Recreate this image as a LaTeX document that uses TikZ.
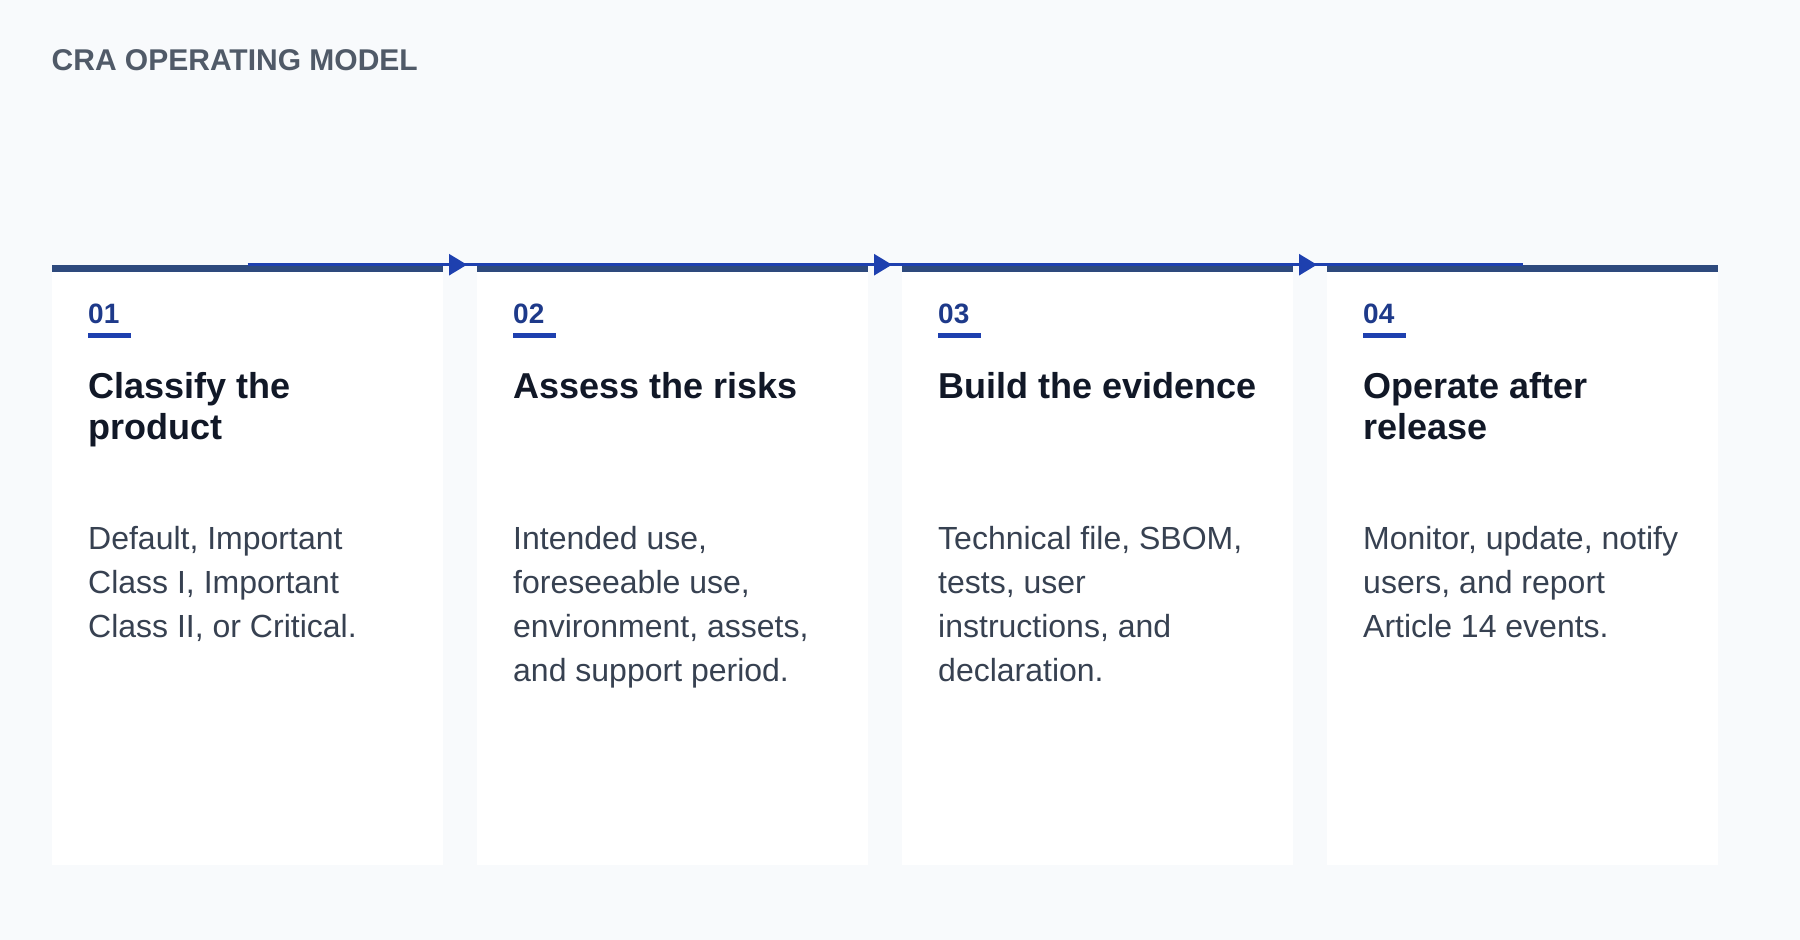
\documentclass[tikz,border=0pt]{standalone}
\usepackage{fontspec}
\setmainfont{Liberation Sans}
\usetikzlibrary{arrows.meta}

\definecolor{pagebg}{HTML}{F8FAFC}
\definecolor{titleink}{HTML}{505A68}
\definecolor{barblue}{HTML}{2E4A7D}
\definecolor{lineblue}{HTML}{1E40AF}
\definecolor{numblue}{HTML}{1E3A8A}
\definecolor{headink}{HTML}{111827}
\definecolor{bodyink}{HTML}{374151}

\tikzset{
  card/.style={fill=white,inner sep=0pt,minimum width=391pt,minimum height=600pt,anchor=north west},
  topbar/.style={fill=barblue},
  flow/.style={draw=lineblue,line width=2.7pt},
  flowtip/.style={flow,-{Triangle[length=18pt,width=21pt]}},
  numrule/.style={fill=lineblue},
  bigtitle/.style={anchor=base west,inner sep=0pt,text=titleink,font=\bfseries\fontsize{30}{36}\selectfont},
  stepno/.style={anchor=base west,inner sep=0pt,text=numblue,font=\bfseries\fontsize{28}{32}\selectfont},
  stephead/.style={anchor=base west,inner sep=0pt,align=left,text=headink,font=\bfseries\fontsize{36}{41.7}\selectfont},
  stepbody/.style={anchor=base west,inner sep=0pt,align=left,text=bodyink,font=\fontsize{32}{44}\selectfont}
}

\begin{document}
\begin{tikzpicture}[x=1pt,y=-1pt]
  \useasboundingbox (0,0) rectangle (1800,940);
  \fill[pagebg] (0,0) rectangle (1800,940);

  \node[bigtitle] (title) at (51.5,70) {CRA OPERATING MODEL};

  % the four cards
  \node[card] (c1) at (52,265) {};
  \node[card] (c2) at (477,265) {};
  \node[card] (c3) at (902,265) {};
  \node[card] (c4) at (1327,265) {};

  \fill[topbar] (c1.north west) rectangle ([yshift=-7pt]c1.north east);
  \fill[topbar] (c2.north west) rectangle ([yshift=-7pt]c2.north east);
  \fill[topbar] (c3.north west) rectangle ([yshift=-7pt]c3.north east);
  \fill[topbar] (c4.north west) rectangle ([yshift=-7pt]c4.north east);

  % flow line with arrows in the gaps
  \draw[flow] ([yshift=.3pt]c1.north) -- ([yshift=.3pt]c2.north);
  \draw[flow] ([yshift=.3pt]c2.north) -- ([yshift=.3pt]c3.north);
  \draw[flow] ([yshift=.3pt]c3.north) -- ([yshift=.3pt]c4.north);
  \draw[flowtip] ([yshift=.3pt]c1.north east) -- ([xshift=-10pt,yshift=.3pt]c2.north west);
  \draw[flowtip] ([yshift=.3pt]c2.north east) -- ([xshift=-10pt,yshift=.3pt]c3.north west);
  \draw[flowtip] ([yshift=.3pt]c3.north east) -- ([xshift=-10pt,yshift=.3pt]c4.north west);

  % card 1 (multi-line nodes sit on their last baseline)
  \node[stepno] (n1) at ([shift={(36,58.5)}]c1.north west) {01};
  \fill[numrule] ([shift={(36,68)}]c1.north west) rectangle ++(43,4.5);
  \node[stephead] (h1) at ([shift={(36,174.7)}]c1.north west) {Classify the\\product};
  \node[stepbody] (b1) at ([shift={(36,372.3)}]c1.north west)
    {Default, Important\\Class I, Important\\Class II, or Critical.};

  % card 2
  \node[stepno] (n2) at ([shift={(36,58.5)}]c2.north west) {02};
  \fill[numrule] ([shift={(36,68)}]c2.north west) rectangle ++(43,4.5);
  \node[stephead] (h2) at ([shift={(36,133)}]c2.north west) {Assess the risks};
  \node[stepbody] (b2) at ([shift={(36,416.3)}]c2.north west)
    {Intended use,\\foreseeable use,\\environment, assets,\\and support period.};

  % card 3
  \node[stepno] (n3) at ([shift={(36,58.5)}]c3.north west) {03};
  \fill[numrule] ([shift={(36,68)}]c3.north west) rectangle ++(43,4.5);
  \node[stephead] (h3) at ([shift={(36,133)}]c3.north west) {Build the evidence};
  \node[stepbody] (b3) at ([shift={(36,416.3)}]c3.north west)
    {Technical file, SBOM,\\tests, user\\instructions, and\\declaration.};

  % card 4
  \node[stepno] (n4) at ([shift={(36,58.5)}]c4.north west) {04};
  \fill[numrule] ([shift={(36,68)}]c4.north west) rectangle ++(43,4.5);
  \node[stephead] (h4) at ([shift={(36,174.7)}]c4.north west) {Operate after\\release};
  \node[stepbody] (b4) at ([shift={(36,372.3)}]c4.north west)
    {Monitor, update, notify\\users, and report\\Article 14 events.};
\end{tikzpicture}
\end{document}
